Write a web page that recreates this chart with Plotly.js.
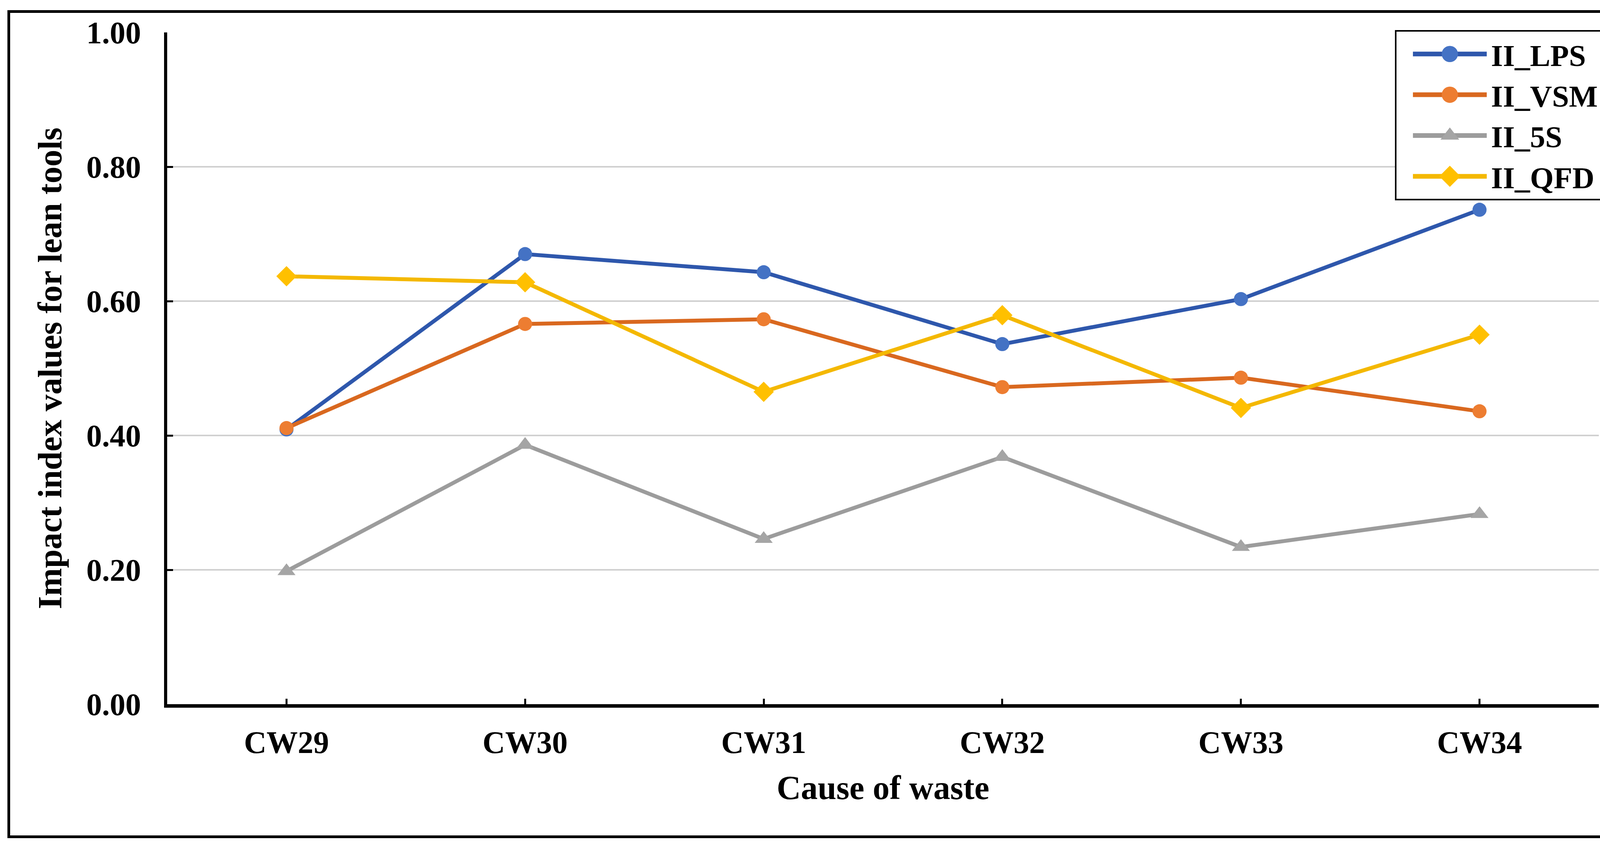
<!DOCTYPE html>
<html>
<head>
<meta charset="utf-8">
<script src="https://cdn.plot.ly/plotly-3.0.1.min.js"></script>
<style>
  html, body { margin: 0; padding: 0; background: #ffffff; }
  #wrap { position: relative; width: 4190px; height: 2161px; }
  #chart { position: absolute; left: 0; top: 0; width: 4190px; height: 2161px; }
  #frame { position: absolute; left: 19px; top: 26px; width: 4132px; height: 2106px;
           border: 7px solid #000; pointer-events: none; }
</style>
</head>
<body>
<div id="wrap">
  <div id="chart"></div>
  <div id="frame"></div>
</div>
<script>
// ---- data ----
const categories = ['CW29', 'CW30', 'CW31', 'CW32', 'CW33', 'CW34'];
const seriesNames = ['II_LPS', 'II_VSM', 'II_5S', 'II_QFD'];
const lpsValues = [0.409, 0.670, 0.643, 0.536, 0.603, 0.736];
const vsmValues = [0.411, 0.566, 0.573, 0.472, 0.486, 0.436];
const fiveSValues = [0.198, 0.386, 0.246, 0.368, 0.234, 0.283];
const qfdValues = [0.637, 0.628, 0.465, 0.579, 0.441, 0.550];
const yTickValues = [0, 0.2, 0.4, 0.6, 0.8, 1.0];
const xTitle = 'Cause of waste';
const yTitle = 'Impact index values for lean tools';

// ---- styles ----
const FONT = '"Liberation Serif", "Times New Roman", serif';
const styles = [
  { line: '#2E57AC', marker: '#4472C4', symbol: 'circle', size: 36 },
  { line: '#D9681F', marker: '#ED7D31', symbol: 'circle', size: 36 },
  { line: '#9C9C9C', marker: '#A5A5A5', symbol: 'triangle-up', size: 40 },
  { line: '#F4B800', marker: '#FFC000', symbol: 'diamond', size: 40 }
];
const allValues = [lpsValues, vsmValues, fiveSValues, qfdValues];
const xIdx = categories.map((c, i) => i);

const traces = allValues.map((vals, k) => ({
  type: 'scatter',
  mode: 'lines+markers',
  name: seriesNames[k],
  x: xIdx,
  y: vals,
  line: { color: styles[k].line, width: 10 },
  marker: { color: styles[k].marker, symbol: styles[k].symbol, size: styles[k].size,
            line: { width: 0 } },
  cliponaxis: false
}));

const layout = {
  width: 4190,
  height: 2161,
  paper_bgcolor: '#ffffff',
  plot_bgcolor: '#ffffff',
  margin: { l: 428, r: 97, t: 83, b: 358, autoexpand: false },
  font: { family: FONT, size: 80, color: '#000000', weight: 'bold' },
  showlegend: true,
  legend: {
    x: 0.8576, y: 1.0035, xanchor: 'left', yanchor: 'top',
    bgcolor: '#ffffff', bordercolor: '#000000', borderwidth: 4,
    font: { family: FONT, size: 78, color: '#000000', weight: 'bold' },
    itemwidth: 232,
    tracegroupgap: 0
  },
  xaxis: {
    range: [-0.5, 5.5],
    tickmode: 'array',
    tickvals: xIdx.concat([categories.length - 0.5]),
    ticktext: categories.concat(['']),
    ticks: 'inside', ticklen: 14, tickwidth: 5, tickcolor: '#000000',
    showline: true, linecolor: '#000000', linewidth: 9,
    showgrid: false, zeroline: false,
    ticklabelstandoff: 20,
    tickfont: { family: FONT, size: 80, color: '#000000', weight: 'bold' },
    title: { text: xTitle, standoff: 45,
             font: { family: FONT, size: 86, color: '#000000', weight: 'bold' } },
    automargin: false,
    fixedrange: true
  },
  yaxis: {
    range: [0, 1],
    tickmode: 'array',
    tickvals: yTickValues,
    tickformat: '.2f',
    ticks: 'inside', ticklen: 15, tickwidth: 5, tickcolor: '#000000',
    showline: true, linecolor: '#000000', linewidth: 8,
    showgrid: true, gridcolor: '#d0d0d0', gridwidth: 4,
    zeroline: false,
    ticklabelstandoff: 43,
    tickfont: { family: FONT, size: 80, color: '#000000', weight: 'bold' },
    title: { text: yTitle, standoff: 38,
             font: { family: FONT, size: 86, color: '#000000', weight: 'bold' } },
    automargin: false,
    fixedrange: true
  }
};

Plotly.newPlot('chart', traces, layout, { staticPlot: true, displayModeBar: false }).then(gd => {
  // lengthen legend samples to resemble the original legend
  const L0 = 42, LLEN = 189;
  gd.querySelectorAll('.legend .traces').forEach(g => {
    g.querySelectorAll('.legendlines path').forEach(p => {
      p.setAttribute('d', 'M' + L0 + ',0h' + LLEN);
      p.style.strokeWidth = '12px';
    });
    g.querySelectorAll('.legendpoints path.scatterpts').forEach(p => {
      p.setAttribute('transform', 'translate(' + (L0 + LLEN / 2) + ',0) scale(2.6)');
    });
  });
});
</script>
</body>
</html>
